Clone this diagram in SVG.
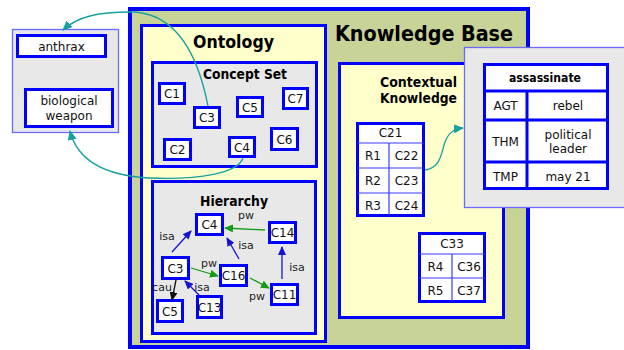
<svg xmlns="http://www.w3.org/2000/svg" width="624" height="350" viewBox="0 0 624 350">
<style>
text{font-family:"DejaVu Sans","Verdana",sans-serif;fill:#111;}
.t{font-size:12px;text-anchor:middle;}
.lbl{font-size:11px;fill:#222;text-anchor:middle;}
.b{font-weight:bold;fill:#000;}
.node{fill:#fff;stroke:#0000ff;stroke-width:3;}
.cell{fill:#fff;stroke:#0000ff;stroke-width:3;}
.thin{stroke:#3a3aff;stroke-width:1.2;fill:none;}
.thick{stroke:#0000ff;stroke-width:3;fill:none;}
.isa{stroke:#1515d0;stroke-width:1.3;fill:none;marker-end:url(#ab);}
.pw{stroke:#129a12;stroke-width:1.3;fill:none;marker-end:url(#ag);}
.cau{stroke:#111;stroke-width:1.3;fill:none;marker-end:url(#ak);}
.teal{stroke:#16a0a0;stroke-width:1.3;fill:none;marker-end:url(#at);}
</style>
<defs>
<marker id="ab" markerUnits="userSpaceOnUse" markerWidth="9" markerHeight="8" refX="8" refY="4" orient="auto"><path d="M0,0 L9,4 L0,8 Z" fill="#1515d0"/></marker>
<marker id="ag" markerUnits="userSpaceOnUse" markerWidth="9" markerHeight="8" refX="8" refY="4" orient="auto"><path d="M0,0 L9,4 L0,8 Z" fill="#129a12"/></marker>
<marker id="ak" markerUnits="userSpaceOnUse" markerWidth="9" markerHeight="8" refX="8" refY="4" orient="auto"><path d="M0,0 L9,4 L0,8 Z" fill="#111"/></marker>
<marker id="at" markerUnits="userSpaceOnUse" markerWidth="10" markerHeight="9" refX="9" refY="4.5" orient="auto"><path d="M0,0 L10,4.5 L0,9 Z" fill="#16a0a0"/></marker>
</defs>
<rect width="624" height="350" fill="#fff"/>

<g id="knowledge-base">
<rect x="130" y="9" width="398" height="338" fill="#c8d397" stroke="#0000ff" stroke-width="4"/>
<text x="335" y="41" class="b" font-size="21" textLength="178" lengthAdjust="spacingAndGlyphs">Knowledge Base</text>
</g>

<g id="ontology">
<rect x="141.5" y="25.5" width="184" height="316" fill="#ffffcc" stroke="#0000ff" stroke-width="3"/>
<text x="193" y="48" class="b" font-size="17" textLength="81" lengthAdjust="spacingAndGlyphs">Ontology</text>
</g>

<g id="concept-set">
<rect x="152.5" y="62.5" width="164" height="104" fill="#e8e8e8" stroke="#0000ff" stroke-width="3"/>
<text x="203" y="79" class="b" font-size="14" textLength="84" lengthAdjust="spacingAndGlyphs">Concept Set</text>
</g>

<g id="hierarchy">
<rect x="152.5" y="181.5" width="163" height="152" fill="#e8e8e8" stroke="#0000ff" stroke-width="3"/>
<text x="200" y="206" class="b" font-size="14" textLength="68" lengthAdjust="spacingAndGlyphs">Hierarchy</text>
</g>

<g id="contextual-knowledge">
<rect x="339.5" y="63.5" width="164" height="254" fill="#ffffcc" stroke="#0000ff" stroke-width="3"/>
<text x="380" y="87" class="b" font-size="14" textLength="77" lengthAdjust="spacingAndGlyphs">Contextual</text>
<text x="380" y="103" class="b" font-size="14" textLength="77" lengthAdjust="spacingAndGlyphs">Knowledge</text>
</g>

<g id="external-entities">
<rect x="12.5" y="29.5" width="106" height="103" fill="#e8e8e8" stroke="#6a6aff" stroke-width="1.3"/>
</g>
<g id="anthrax">
<rect x="17.5" y="35.5" width="88" height="21" class="node"/>
<text x="61.5" y="51" class="t">anthrax</text>
</g>
<g id="biological-weapon">
<rect x="25.5" y="89.5" width="87" height="37" class="node"/>
<text x="69" y="105" class="t">biological</text>
<text x="69" y="120" class="t">weapon</text>
</g>

<g id="cs-C1"><rect x="159.5" y="83.5" width="25" height="20" class="node"/><text x="172" y="98" class="t">C1</text></g>
<g id="cs-C3"><rect x="194.5" y="107.5" width="25" height="20" class="node"/><text x="207" y="122" class="t">C3</text></g>
<g id="cs-C5"><rect x="237.5" y="97.5" width="25" height="19" class="node"/><text x="250" y="111.5" class="t">C5</text></g>
<g id="cs-C7"><rect x="283.5" y="88.5" width="24" height="20" class="node"/><text x="295.5" y="103" class="t">C7</text></g>
<g id="cs-C2"><rect x="164.5" y="139.5" width="26" height="20" class="node"/><text x="177.5" y="154" class="t">C2</text></g>
<g id="cs-C4"><rect x="229.5" y="137.5" width="25" height="19" class="node"/><text x="242" y="151.5" class="t">C4</text></g>
<g id="cs-C6"><rect x="271.5" y="128.5" width="26" height="21" class="node"/><text x="284.5" y="143.5" class="t">C6</text></g>

<g id="h-C4"><rect x="196.5" y="214.5" width="26" height="20" class="node"/><text x="209.5" y="229" class="t">C4</text></g>
<g id="h-C14"><rect x="269.5" y="222.5" width="26" height="20" class="node"/><text x="282.5" y="237" class="t">C14</text></g>
<g id="h-C3"><rect x="162.5" y="257.5" width="26" height="21" class="node"/><text x="175.5" y="272.5" class="t">C3</text></g>
<g id="h-C16"><rect x="220.5" y="265.5" width="26" height="20" class="node"/><text x="233.5" y="280" class="t">C16</text></g>
<g id="h-C11"><rect x="271.5" y="284.5" width="26" height="20" class="node"/><text x="284.5" y="299" class="t">C11</text></g>
<g id="h-C5"><rect x="157.5" y="300.5" width="25" height="21" class="node"/><text x="170" y="315.5" class="t">C5</text></g>
<g id="h-C13"><rect x="197.5" y="296.5" width="24" height="21" class="node"/><text x="209.5" y="311.5" class="t">C13</text></g>

<g id="C21">
<rect x="357.5" y="123.5" width="66" height="92" class="cell"/>
<line x1="357.5" y1="143" x2="423.5" y2="143" class="thin"/>
<line x1="357.5" y1="168" x2="423.5" y2="168" class="thin"/>
<line x1="357.5" y1="193" x2="423.5" y2="193" class="thin"/>
<line x1="389" y1="143" x2="389" y2="215.5" class="thin"/>
<text x="390.5" y="137" class="t">C21</text>
<text x="373" y="160" class="t">R1</text><text x="406.5" y="160" class="t">C22</text>
<text x="373" y="185" class="t">R2</text><text x="406.5" y="185" class="t">C23</text>
<text x="373" y="209.5" class="t">R3</text><text x="406.5" y="209.5" class="t">C24</text>
</g>

<g id="C33">
<rect x="419.5" y="233.5" width="65" height="68" class="cell"/>
<line x1="419.5" y1="254" x2="484.5" y2="254" class="thin"/>
<line x1="419.5" y1="278" x2="484.5" y2="278" class="thin"/>
<line x1="452" y1="254" x2="452" y2="301.5" class="thin"/>
<text x="452" y="247.5" class="t">C33</text>
<text x="435.5" y="270.5" class="t">R4</text><text x="469" y="270.5" class="t">C36</text>
<text x="435.5" y="295" class="t">R5</text><text x="469" y="295" class="t">C37</text>
</g>

<g id="assassinate-frame">
<rect x="464.5" y="47.5" width="170" height="160" fill="#e8e8e8" stroke="#6a6aff" stroke-width="1.3"/>
<rect x="484.5" y="64.5" width="123" height="124" class="cell"/>
<line x1="484.5" y1="91" x2="607.5" y2="91" class="thick"/>
<line x1="484.5" y1="120" x2="607.5" y2="120" class="thick"/>
<line x1="484.5" y1="162" x2="607.5" y2="162" class="thick"/>
<line x1="527" y1="91" x2="527" y2="188.5" class="thick"/>
<text x="509" y="82" class="b" font-size="13" textLength="72" lengthAdjust="spacingAndGlyphs">assassinate</text>
<text x="505.5" y="110" class="t">AGT</text><text x="568" y="110" class="t">rebel</text>
<text x="505.5" y="145.5" class="t">THM</text><text x="568" y="139" class="t">political</text><text x="568" y="153" class="t">leader</text>
<text x="505.5" y="180.5" class="t">TMP</text><text x="568" y="180.5" class="t">may 21</text>
</g>

<g id="connectors">
<path d="M208,106 C196,45 170,12 130,12 C100,12 78,16 63,30" class="teal"/>
<path d="M243,158 C238,173 200,180 150,178 C110,176 78,163 70,131" class="teal"/>
<path d="M425,170 C440,168 441,155 444,145 C447,135 452,129 463,128" class="teal"/>

<line x1="172" y1="252" x2="191" y2="231" class="isa"/>
<line x1="265" y1="230" x2="225" y2="228" class="pw"/>
<line x1="239" y1="259" x2="227" y2="238" class="isa"/>
<line x1="191" y1="268" x2="218" y2="276" class="pw"/>
<line x1="250" y1="278" x2="269" y2="288" class="pw"/>
<line x1="282" y1="279" x2="282" y2="247" class="isa"/>
<line x1="176" y1="280" x2="172" y2="300" class="cau"/>
<line x1="200" y1="296" x2="185" y2="281" class="isa"/>

<text x="167" y="240" class="lbl">isa</text>
<text x="246" y="219" class="lbl">pw</text>
<text x="246" y="249" class="lbl">isa</text>
<text x="209" y="267" class="lbl">pw</text>
<text x="257" y="300" class="lbl">pw</text>
<text x="297" y="271" class="lbl">isa</text>
<text x="162" y="291" class="lbl">cau</text>
<text x="202" y="291" class="lbl">isa</text>
</g>
</svg>
